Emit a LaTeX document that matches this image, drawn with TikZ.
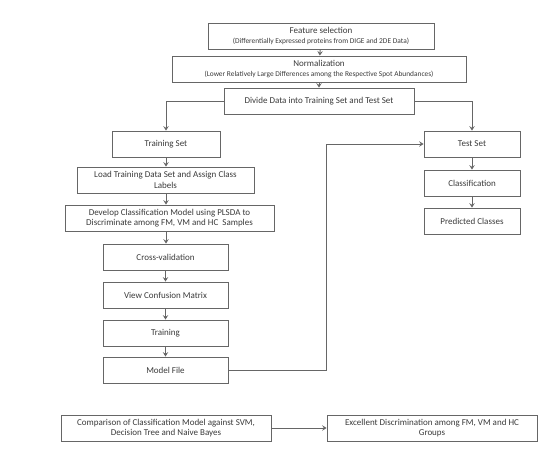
\documentclass[tikz,border=0pt]{standalone}
\usepackage{fontspec}
\setmainfont{Carlito}
\usetikzlibrary{arrows.meta}
\definecolor{boxline}{HTML}{666666}
\definecolor{txt}{HTML}{3A3A3A}
\tikzset{
  box/.style={draw=boxline, line width=0.9pt, rectangle, inner sep=0pt, minimum height=26pt,
    align=center, text=txt, font=\fontsize{9}{10.5}\selectfont},
  conn/.style={draw=boxline, line width=0.9pt, -{Stealth[length=4.5pt,width=5.5pt,inset=1.8pt]}}
}
\newcommand{\subtxt}{\fontsize{7.4}{8.4}\selectfont}
\begin{document}
\begin{tikzpicture}[x=1pt,y=-1pt]
\useasboundingbox (0,0) rectangle (560,472);
\node[box, minimum width=226pt] (feat) at (321,36) {Feature selection\\[-1pt]{\subtxt (Differentially Expressed proteins from DIGE and 2DE Data)}};
\node[box, minimum width=294pt] (norm) at (319,69) {Normalization\\[-1pt]{\subtxt (Lower Relatively Large Differences among the Respective Spot Abundances)}};
\node[box, minimum width=190pt] (div) at (319,101) {Divide Data into Training Set and Test Set};
\node[box, minimum width=108pt] (train) at (166,144) {Training Set};
\node[box, minimum width=177pt] (load) at (165.5,180) {Load Training Data Set and Assign Class\\Labels};
\node[box, minimum width=209pt] (dev) at (169.5,218) {Develop Classification Model using PLSDA to\\Discriminate among FM, VM and HC\ \ Samples};
\node[box, minimum width=125pt] (cv) at (165.5,257) {Cross-validation};
\node[box, minimum width=125pt] (view) at (165.5,295) {View Confusion Matrix};
\node[box, minimum width=125pt] (trn) at (165.5,333) {Training};
\node[box, minimum width=125pt] (model) at (165.5,370) {Model File};
\node[box, minimum width=96pt] (test) at (472,144) {Test Set};
\node[box, minimum width=96pt] (cls) at (472,183) {Classification};
\node[box, minimum width=96pt] (pred) at (472,221) {Predicted Classes};
\node[box, minimum width=210pt] (comp) at (166,428) {Comparison of Classification Model against SVM,\\Decision Tree and Naive Bayes};
\node[box, minimum width=210pt] (exc) at (432,428) {Excellent Discrimination among FM, VM and HC\\Groups};
\coordinate (bend) at (326,370);
\draw[conn] (feat) -- (norm);
\draw[conn] (norm) -- (div);
\draw[conn] (div.west) -| (train.north);
\draw[conn] (div.east) -| (test.north);
\draw[conn] (train.south) -- (train.south |- load.north);
\draw[conn] (load.south -| train.south) -- (train.south |- dev.north);
\draw[conn] (dev.south -| train.south) -- (train.south |- cv.north);
\draw[conn] (cv) -- (view);
\draw[conn] (view) -- (trn);
\draw[conn] (trn) -- (model);
\draw[conn] (test) -- (cls);
\draw[conn] (cls) -- (pred);
\draw[conn] (model.east) -- (bend) |- (test.west);
\draw[conn] (comp) -- (exc);
\end{tikzpicture}
\end{document}
